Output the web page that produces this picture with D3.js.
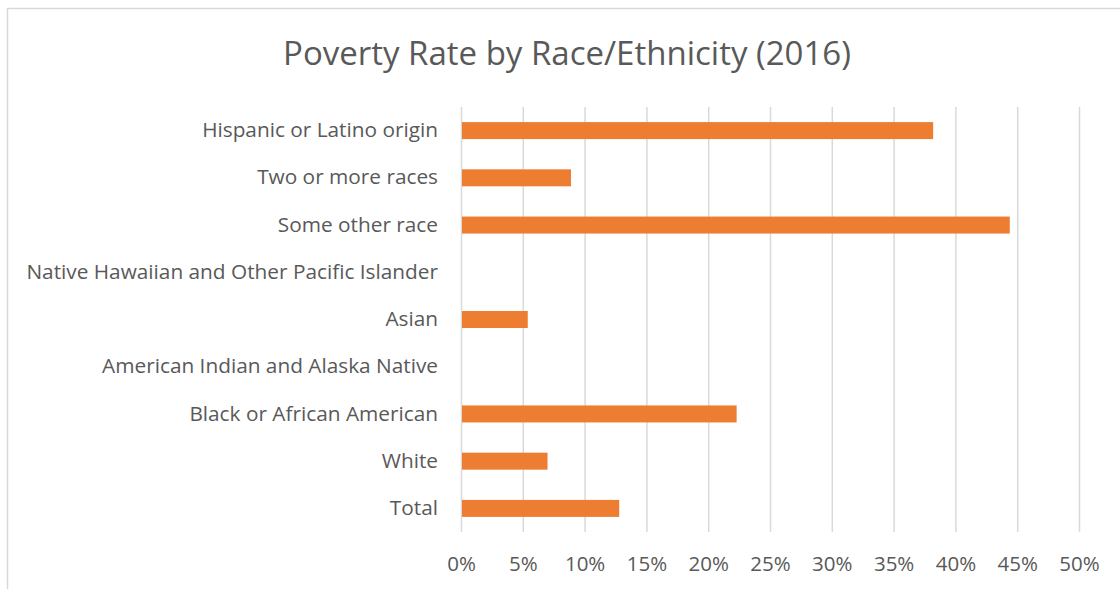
<!DOCTYPE html>
<html>
<head>
<meta charset="utf-8">
<script src="https://cdn.jsdelivr.net/npm/d3@7"></script>
<style>
  body { margin: 0; background: #fff; }
  text { font-family: "Open Sans", sans-serif; fill: #595959; }
</style>
</head>
<body>
<div id="chart"></div>
<script>
"use strict"

const categories = [
  "Hispanic or Latino origin",
  "Two or more races",
  "Some other race",
  "Native Hawaiian and Other Pacific Islander",
  "Asian",
  "American Indian and Alaska Native",
  "Black or African American",
  "White",
  "Total"
];
// null = no bar drawn
const rates = [38.2, 8.9, 44.4, null, 5.4, null, 22.3, 7.0, 12.8];
const ticks = [0, 5, 10, 15, 20, 25, 30, 35, 40, 45, 50];

const W = 1120, H = 589;
let margin = {top: 107, right: 41, bottom: 57, left: 461};
let width = W - margin.left - margin.right,
    height = H - margin.top - margin.bottom;

let svg = d3.select("#chart").append("svg")
  .attr("width", W)
  .attr("height", H);

// chart frame
svg.append("rect")
  .attr("x", 7.5).attr("y", 8.5)
  .attr("width", W + 10).attr("height", H + 10)
  .attr("fill", "none")
  .attr("stroke", "#d9d9d9")
  .attr("stroke-width", 1.5);

svg.append("text")
  .attr("x", 567).attr("y", 65)
  .attr("text-anchor", "middle")
  .style("font-size", "33px")
  .text("Poverty Rate by Race/Ethnicity (2016)");

let g = svg.append("g")
  .attr("transform", "translate(" + margin.left + "," + margin.top + ")");

let x = d3.scaleLinear().domain([0, 50]).range([0, 618]);
let y = d3.scaleBand().domain(categories).range([0, height])
  .paddingInner(0.64).paddingOuter(0.32);

// gridlines
g.append("g")
  .selectAll("line")
  .data(ticks)
  .join("line")
  .attr("x1", d => x(d) + 0.5).attr("x2", d => x(d) + 0.5)
  .attr("y1", 0).attr("y2", height)
  .attr("stroke", "#d9d9d9")
  .attr("stroke-width", 1.5);

// x axis labels
let xAxis = g.append("g")
  .attr("transform", "translate(0," + (height + 21) + ")")
  .call(d3.axisBottom(x).tickValues(ticks).tickSize(0).tickFormat(d => d + "%"));
xAxis.select(".domain").remove();
xAxis.selectAll("text")
  .style("font-size", "20.5px")
  .style("font-family", "\"Open Sans\", sans-serif")
  .attr("fill", "#595959");

// y axis labels
let yAxis = g.append("g")
  .attr("transform", "translate(-20,0)")
  .call(d3.axisLeft(y).tickSize(0));
yAxis.select(".domain").remove();
yAxis.selectAll("text")
  .style("font-size", "20.8px")
  .style("font-family", "\"Open Sans\", sans-serif")
  .attr("fill", "#595959");

// bars
g.append("g")
  .selectAll("rect")
  .data(categories.map((c, i) => ({cat: c, value: rates[i]})).filter(d => d.value !== null))
  .join("rect")
  .attr("x", x(0) + 1)
  .attr("y", d => y(d.cat))
  .attr("width", d => x(d.value) - x(0) - 1)
  .attr("height", y.bandwidth())
  .attr("fill", "#ed7d31");
</script>
</body>
</html>
